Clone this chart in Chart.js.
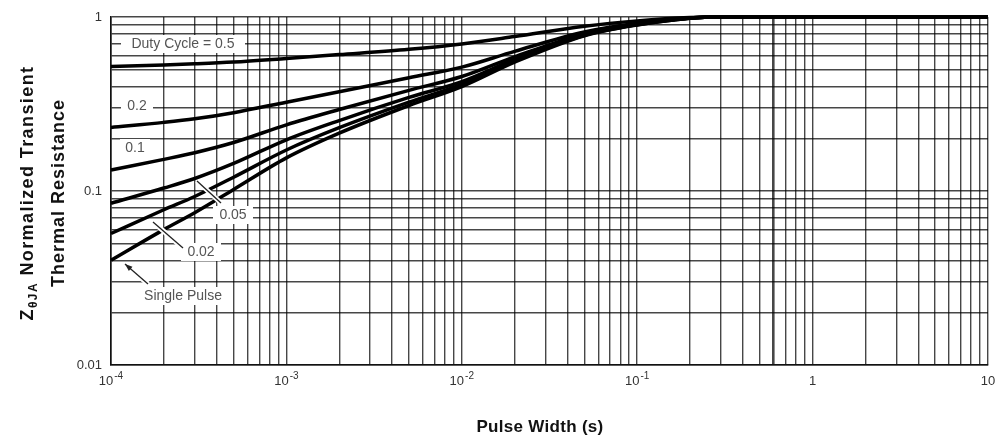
<!DOCTYPE html>
<html>
<head>
<meta charset="utf-8">
<script src="https://cdn.jsdelivr.net/npm/chart.js@4.4.1/dist/chart.umd.min.js"></script>
<style>
  html, body { margin: 0; padding: 0; background: #fff; }
  #wrap { width: 1001px; height: 438px; }
</style>
</head>
<body>
<div id="wrap"><canvas id="thermalChart" width="1001" height="438"></canvas></div>
<script>
// pulse width (s) sample points shared by every curve
const pulseWidths = [1e-4, 2e-4, 3e-4, 5e-4, 1e-3, 2e-3, 5e-3, 1e-2, 2e-2, 5e-2, 1e-1, 2e-1, 3e-1, 1, 10];

// normalized transient thermal resistance per duty cycle
const duty50 = [0.520, 0.530, 0.538, 0.551, 0.578, 0.608, 0.652, 0.700, 0.772, 0.885, 0.950, 0.993, 1, 1, 1];
const duty20 = [0.232, 0.248, 0.260, 0.282, 0.324, 0.372, 0.448, 0.515, 0.635, 0.820, 0.920, 0.988, 1, 1, 1];
const duty10 = [0.132, 0.152, 0.166, 0.190, 0.240, 0.294, 0.379, 0.455, 0.590, 0.800, 0.910, 0.987, 1, 1, 1];
const duty05 = [0.085, 0.104, 0.118, 0.144, 0.197, 0.254, 0.345, 0.425, 0.570, 0.790, 0.905, 0.986, 1, 1, 1];
const duty02 = [0.057, 0.078, 0.093, 0.120, 0.172, 0.231, 0.324, 0.410, 0.558, 0.784, 0.902, 0.985, 1, 1, 1];
const singlePulse = [0.040, 0.060, 0.075, 0.102, 0.155, 0.215, 0.310, 0.398, 0.550, 0.780, 0.900, 0.985, 1, 1, 1];

const seriesNames = ['Duty Cycle = 0.5', '0.2', '0.1', '0.05', '0.02', 'Single Pulse'];
const seriesValues = [duty50, duty20, duty10, duty05, duty02, singlePulse];

// axis labels ("base^exponent" is drawn with a raised exponent)
const xTickValues = [1e-4, 1e-3, 1e-2, 1e-1, 1, 10];
const xTickLabels = ['10^-4', '10^-3', '10^-2', '10^-1', '1', '10'];
const yTickValues = [0.01, 0.1, 1];
const yTickLabels = ['0.01', '0.1', '1'];

const FONT = "'Liberation Sans', Arial, sans-serif";
Chart.defaults.font.family = FONT;

// 1..9 x 10^e for every decade, plus the closing power of ten
function decadeGrid(minExp, maxExp) {
  const out = [];
  for (let e = minExp; e < maxExp; e++) {
    for (let s = 1; s <= 9; s++) out.push(Number((s * Math.pow(10, e)).toPrecision(6)));
  }
  out.push(Number(Math.pow(10, maxExp).toPrecision(6)));
  return out;
}

function labelFor(v, values, labels) {
  const k = values.findIndex(t => Math.abs(Math.log10(t) - Math.log10(v)) < 1e-6);
  return k >= 0 ? labels[k] : '';
}

const datasets = seriesValues.map((vals, i) => ({
  label: seriesNames[i],
  data: pulseWidths.map((x, j) => ({ x: x, y: vals[j] })),
  borderColor: '#000',
  borderWidth: 3.5,
  pointRadius: 0,
  fill: false,
  cubicInterpolationMode: 'monotone',
  clip: 8
}));

// curve labels sit in little white boxes over the grid
const curveNotes = [
  { text: seriesNames[0], cx: 183, cy: 44, w: 124 },
  { text: seriesNames[1], cx: 137, cy: 106, w: 32 },
  { text: seriesNames[2], cx: 135, cy: 148, w: 30 },
  { text: seriesNames[3], cx: 233, cy: 215, w: 40 },
  { text: seriesNames[4], cx: 201, cy: 252, w: 40 },
  { text: seriesNames[5], cx: 183, cy: 296, w: 92 }
];
const leaders = [
  { from: [197, 181], to: [221, 203], arrow: false },
  { from: [153, 222], to: [183, 248], arrow: false },
  { from: [125, 264], to: [148, 284], arrow: true }
];

function drawXTicks(chart) {
  const ctx = chart.ctx;
  const scale = chart.scales.x;
  const y = chart.chartArea.bottom + 16;
  ctx.save();
  ctx.fillStyle = '#333';
  ctx.textBaseline = 'middle';
  ctx.textAlign = 'left';
  xTickValues.forEach((v, i) => {
    const parts = xTickLabels[i].split('^');
    ctx.font = '13px ' + FONT;
    const wBase = ctx.measureText(parts[0]).width;
    ctx.font = '10px ' + FONT;
    const wExp = parts[1] ? ctx.measureText(parts[1]).width + 1 : 0;
    const x0 = scale.getPixelForValue(v) - (wBase + wExp) / 2;
    ctx.font = '13px ' + FONT;
    ctx.fillText(parts[0], x0, y);
    if (parts[1]) {
      ctx.font = '10px ' + FONT;
      ctx.fillText(parts[1], x0 + wBase + 1, y - 5);
    }
  });
  ctx.restore();
}

const annotations = {
  id: 'annotations',
  beforeDatasetsDraw(chart) {
    const ctx = chart.ctx;
    ctx.save();
    ctx.font = '14px ' + FONT;
    ctx.textAlign = 'center';
    ctx.textBaseline = 'middle';
    curveNotes.forEach(n => {
      ctx.fillStyle = '#fff';
      ctx.fillRect(n.cx - n.w / 2, n.cy - 9, n.w, 18);
      ctx.fillStyle = '#555';
      ctx.fillText(n.text, n.cx, n.cy);
    });
    ctx.restore();
  },
  afterDatasetsDraw(chart) {
    const ctx = chart.ctx;
    ctx.save();
    leaders.forEach(l => {
      ctx.beginPath();
      ctx.moveTo(l.from[0], l.from[1]);
      ctx.lineTo(l.to[0], l.to[1]);
      ctx.strokeStyle = '#fff';
      ctx.lineWidth = 5;
      ctx.stroke();
      ctx.strokeStyle = '#222';
      ctx.lineWidth = 1.3;
      ctx.stroke();
      if (l.arrow) {
        const a = Math.atan2(l.from[1] - l.to[1], l.from[0] - l.to[0]);
        ctx.beginPath();
        ctx.moveTo(l.from[0], l.from[1]);
        ctx.lineTo(l.from[0] - 8 * Math.cos(a - 0.35), l.from[1] - 8 * Math.sin(a - 0.35));
        ctx.lineTo(l.from[0] - 8 * Math.cos(a + 0.35), l.from[1] - 8 * Math.sin(a + 0.35));
        ctx.closePath();
        ctx.fillStyle = '#222';
        ctx.fill();
      }
    });
    ctx.restore();
  },
  afterDraw(chart) {
    const ctx = chart.ctx;
    const area = chart.chartArea;
    const midY = (area.top + area.bottom) / 2 + 2;
    const big = 'bold 18px ' + FONT;
    const small = 'bold 12px ' + FONT;

    drawXTicks(chart);

    ctx.save();
    ctx.fillStyle = '#111';
    ctx.textBaseline = 'alphabetic';
    ctx.textAlign = 'left';
    if ('letterSpacing' in ctx) ctx.letterSpacing = '1.4px';

    // y title, first line with the theta-JA subscript
    ctx.save();
    ctx.translate(33, midY);
    ctx.rotate(-Math.PI / 2);
    ctx.font = big;
    const wZ = ctx.measureText('Z').width;
    const wRest = ctx.measureText(' Normalized Transient').width;
    ctx.font = small;
    const wSub = ctx.measureText('\u03B8JA').width;
    const x0 = -(wZ + wSub + wRest) / 2;
    ctx.font = big;
    ctx.fillText('Z', x0, 0);
    ctx.font = small;
    ctx.fillText('\u03B8JA', x0 + wZ, 4);
    ctx.font = big;
    ctx.fillText(' Normalized Transient', x0 + wZ + wSub, 0);
    ctx.restore();

    // y title, second line
    ctx.save();
    if ('letterSpacing' in ctx) ctx.letterSpacing = '1px';
    ctx.translate(64, midY);
    ctx.rotate(-Math.PI / 2);
    ctx.font = big;
    ctx.textAlign = 'center';
    ctx.fillText('Thermal Resistance', 0, 0);
    ctx.restore();

    // x title
    if ('letterSpacing' in ctx) ctx.letterSpacing = '0.3px';
    ctx.font = 'bold 17px ' + FONT;
    ctx.textAlign = 'center';
    ctx.textBaseline = 'middle';
    ctx.fillText('Pulse Width (s)', 540, 427);
    ctx.restore();
  }
};

const gridWidth = c => (c.tick && Math.abs(c.tick.value - 0.6) < 1e-9) ? 2.6 : 1.4;

new Chart(document.getElementById('thermalChart'), {
  type: 'line',
  data: { datasets: datasets },
  options: {
    responsive: false,
    animation: false,
    layout: { padding: { left: 0, right: 13, top: 17, bottom: 0 } },
    plugins: { legend: { display: false }, tooltip: { enabled: false } },
    scales: {
      x: {
        type: 'logarithmic',
        min: 1e-4,
        max: 10,
        afterBuildTicks: scale => { scale.ticks = decadeGrid(-4, 1).map(v => ({ value: v })); },
        afterFit: scale => { scale.height = 73; },
        ticks: { autoSkip: false, maxRotation: 0, callback: () => '' },
        grid: { color: 'rgba(0,0,0,0.72)', lineWidth: gridWidth, drawTicks: false },
        border: { display: true, color: '#111', width: 1.6 }
      },
      y: {
        type: 'logarithmic',
        min: 0.01,
        max: 1,
        afterBuildTicks: scale => { scale.ticks = decadeGrid(-2, 0).map(v => ({ value: v })); },
        afterFit: scale => { scale.width = 111; },
        ticks: {
          autoSkip: false,
          padding: 9,
          color: '#333',
          font: { size: 13 },
          callback: v => labelFor(v, yTickValues, yTickLabels)
        },
        grid: { color: 'rgba(0,0,0,0.72)', lineWidth: 1.4, drawTicks: false },
        border: { display: true, color: '#111', width: 1.6 }
      }
    }
  },
  plugins: [annotations]
});
</script>
</body>
</html>
